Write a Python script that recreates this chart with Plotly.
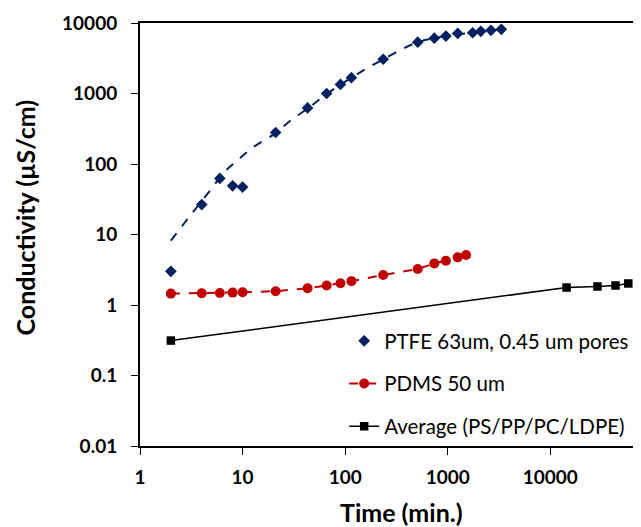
import numpy as np
import plotly.graph_objects as go

# PTFE 63um, 0.45 um pores (markers)
ptfe_t = [2, 4, 6, 8, 10, 21, 43, 66, 90, 115, 235, 510, 740, 960, 1250, 1750, 2100, 2640, 3330]
ptfe_c = [3.0, 26.6, 62.5, 49, 47, 280, 625, 1000, 1345, 1675, 3060, 5350, 6100, 6520, 7120, 7270, 7610, 7870, 8130]

# PTFE trend line
trend_t = [2, 3.2, 5, 6.7, 9, 13, 20.5, 30, 44, 67, 115, 235, 510, 960, 1750, 3330]
trend_c = [8.2, 19.8, 45, 78, 114, 177, 268, 425, 625, 1000, 1675, 3060, 5350, 6520, 7300, 8130]

# PDMS 50 um
pdms_t = [2, 4, 6, 8, 10, 21, 43, 66, 90, 115, 235, 510, 740, 960, 1250, 1510]
pdms_c = [1.45, 1.47, 1.48, 1.50, 1.52, 1.57, 1.73, 1.89, 2.04, 2.18, 2.66, 3.24, 3.89, 4.25, 4.74, 5.12]

# Average (PS/PP/PC/LDPE)
avg_t = [2, 14400, 28800, 43200, 57600]
avg_c = [0.313, 1.77, 1.83, 1.89, 2.02]

x_ticks = [1, 10, 100, 1000, 10000]
y_ticks = [0.01, 0.1, 1, 10, 100, 1000, 10000]
x_max = 70000

NAVY = "#002060"
RED = "#C00000"

# page body has an 8px default margin; figure sized to fill the rest of the window
OFF = 8
W, H = 641 - OFF, 527 - OFF
PL, PR, PT, PB = 140, 639, 23, 446   # plot area in window pixels
L, R, T, B = PL - OFF, (641 - PR), PT - OFF, (527 - PB)

fig = go.Figure()
fig.add_trace(go.Scatter(x=trend_t, y=trend_c, mode="lines", showlegend=False,
                         line=dict(color=NAVY, width=2, dash="dash", shape="spline"),
                         hoverinfo="skip"))
fig.add_trace(go.Scatter(x=ptfe_t, y=ptfe_c, mode="markers", name="PTFE 63um, 0.45 um pores",
                         legendgroup="a",
                         marker=dict(symbol="diamond", size=9, color=NAVY)))
fig.add_trace(go.Scatter(x=pdms_t, y=pdms_c, mode="lines+markers", name="PDMS 50 um",
                         legendgroup="b",
                         line=dict(color=RED, width=2, dash="dash"),
                         marker=dict(symbol="circle", size=10, color=RED)))
fig.add_trace(go.Scatter(x=avg_t, y=avg_c, mode="lines+markers", name="Average (PS/PP/PC/LDPE)",
                         legendgroup="c",
                         line=dict(color="black", width=1.5),
                         marker=dict(symbol="square", size=8.5, color="black")))

tickfont = dict(family="Lato", size=19, color="black", weight="bold")
fig.update_xaxes(type="log", range=[0, np.log10(x_max)], tickvals=x_ticks,
                 ticktext=[str(v) for v in x_ticks], tickfont=tickfont,
                 showgrid=False, zeroline=False, showline=True, linecolor="black",
                 linewidth=1.5, mirror=True, ticks="outside", ticklen=7, tickwidth=1,
                 tickcolor="black", ticklabelstandoff=6)
fig.update_yaxes(type="log", range=[-2, 4], tickvals=y_ticks,
                 ticktext=["0.01", "0.1", "1", "10", "100", "1000", "10000"], tickfont=tickfont,
                 showgrid=False, zeroline=False, showline=True, linecolor="black",
                 linewidth=2, mirror=True, ticks="outside", ticklen=7, tickwidth=1,
                 tickcolor="black", ticklabelstandoff=10)

pw, ph = PR - PL, PB - PT
def px(x): return (x - PL) / pw
def py(y): return (PB - y) / ph

fig.update_layout(
    width=W, height=H,
    margin=dict(l=L, r=R, t=T, b=B),
    paper_bgcolor="white", plot_bgcolor="white",
    font=dict(family="Lato", color="black"),
    legend=dict(x=px(345), y=py(321), xanchor="left", yanchor="top",
                font=dict(family="Lato", size=20.5, color="black"),
                bgcolor="rgba(0,0,0,0)", traceorder="grouped", tracegroupgap=13,
                itemwidth=30),
    annotations=[
        dict(text="Time (min.)", xref="paper", yref="paper", x=px(403), y=py(512),
             xanchor="center", yanchor="middle", showarrow=False,
             font=dict(family="Lato", size=25, color="black", weight="bold")),
        dict(text="Conductivity (µS/cm)", xref="paper", yref="paper", x=px(25), y=py(217),
             xanchor="center", yanchor="middle", showarrow=False, textangle=-90,
             font=dict(family="Lato", size=25, color="black", weight="bold")),
    ],
    showlegend=True,
)

fig.write_html("out.html")
